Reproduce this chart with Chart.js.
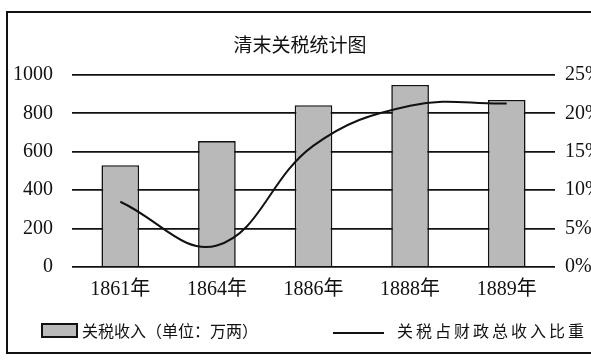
<!DOCTYPE html>
<html>
<head>
<meta charset="utf-8">
<script src="https://cdn.jsdelivr.net/npm/chart.js@4.4.1/dist/chart.umd.min.js"></script>
<style>
  html, body { margin: 0; padding: 0; background: #fff; overflow: hidden; }
  #wrap { width: 600px; height: 360px; }
</style>
</head>
<body>
<div id="wrap"><canvas id="myChart" width="600" height="360"></canvas></div>
<script>
// --- Data ---
const years = ['1861年', '1864年', '1886年', '1888年', '1889年'];
const revenue = [530, 656, 843, 948, 870];          // 关税收入 (万两)
const share = [8.5, 2.8, 15.8, 21.0, 21.3];        // 占财政总收入比重 (%)
const leftTicks = [0, 200, 400, 600, 800, 1000];
const rightTicks = [0, 5, 10, 15, 20, 25];

const chartTitle = '清末关税统计图';
const barLabel = '关税收入（单位：万两）';
const lineLabel = '关税占财政总收入比重';

const serif = '"Liberation Serif", "Noto Sans CJK SC", serif';
const cjk = '"Noto Sans CJK SC", sans-serif';
const barFill = '#b9b9b9';

// --- Title, frame and legend drawn around the chart ---
const decor = {
  id: 'decor',
  afterDraw(chart) {
    const c = chart.ctx;
    c.save();
    // outer frame
    c.strokeStyle = '#111';
    c.lineWidth = 2;
    c.strokeRect(7, 12, 590, 341);

    // title
    c.fillStyle = '#111';
    c.font = '19px ' + cjk;
    c.textAlign = 'center';
    c.textBaseline = 'middle';
    c.fillText(chartTitle, 300, 45);

    // legend: bar
    c.fillStyle = barFill;
    c.fillRect(42, 324, 35, 13);
    c.lineWidth = 2;
    c.strokeStyle = '#111';
    c.strokeRect(42, 324, 35, 13);
    c.fillStyle = '#111';
    c.textAlign = 'left';
    c.font = '16px ' + cjk;
    c.fillText(chart.data.datasets[1].label, 82, 331);

    // legend: line
    c.beginPath();
    c.moveTo(333, 333);
    c.lineTo(384, 333);
    c.lineWidth = 1.8;
    c.stroke();
    c.letterSpacing = '3px';
    c.fillText(chart.data.datasets[0].label, 397, 331);
    c.restore();
  }
};

const ctx = document.getElementById('myChart').getContext('2d');

const chart = new Chart(ctx, {
  data: {
    labels: years,
    datasets: [
      {
        type: 'line',
        label: lineLabel,
        data: share,
        yAxisID: 'y1',
        borderColor: '#111',
        borderWidth: 2,
        pointRadius: 0,
        tension: 0.4,
        fill: false,
        order: 0
      },
      {
        type: 'bar',
        label: barLabel,
        data: revenue,
        yAxisID: 'y',
        backgroundColor: barFill,
        borderColor: '#111',
        borderWidth: 1.6,
        categoryPercentage: 1,
        barPercentage: 0.39,
        order: 1
      }
    ]
  },
  options: {
    responsive: false,
    animation: false,
    layout: { padding: { top: 75, bottom: 53, left: 0, right: 0 } },
    plugins: {
      legend: { display: false },
      title: { display: false },
      tooltip: { enabled: false }
    },
    scales: {
      x: {
        grid: { display: false },
        border: { display: false },
        ticks: { color: '#111', font: { family: serif, size: 20 }, padding: 3 },
        afterFit: s => { s.height = 40; }
      },
      y: {
        position: 'left',
        min: 0,
        max: 1000,
        afterBuildTicks: s => { s.ticks = leftTicks.map(v => ({ value: v })); },
        grid: { color: '#111', lineWidth: 1.8, drawTicks: false },
        border: { display: false },
        ticks: {
          color: '#111',
          font: { family: serif, size: 20 },
          padding: 19,
          callback: v => String(v)
        },
        afterFit: s => { s.width = 72; }
      },
      y1: {
        position: 'right',
        min: 0,
        max: 25,
        afterBuildTicks: s => { s.ticks = rightTicks.map(v => ({ value: v })); },
        grid: { display: false, drawTicks: false },
        border: { display: false },
        ticks: {
          color: '#111',
          font: { family: serif, size: 20 },
          padding: 10,
          callback: v => v + '%'
        },
        afterFit: s => { s.width = 45; }
      }
    }
  },
  plugins: [decor]
});
</script>
</body>
</html>
